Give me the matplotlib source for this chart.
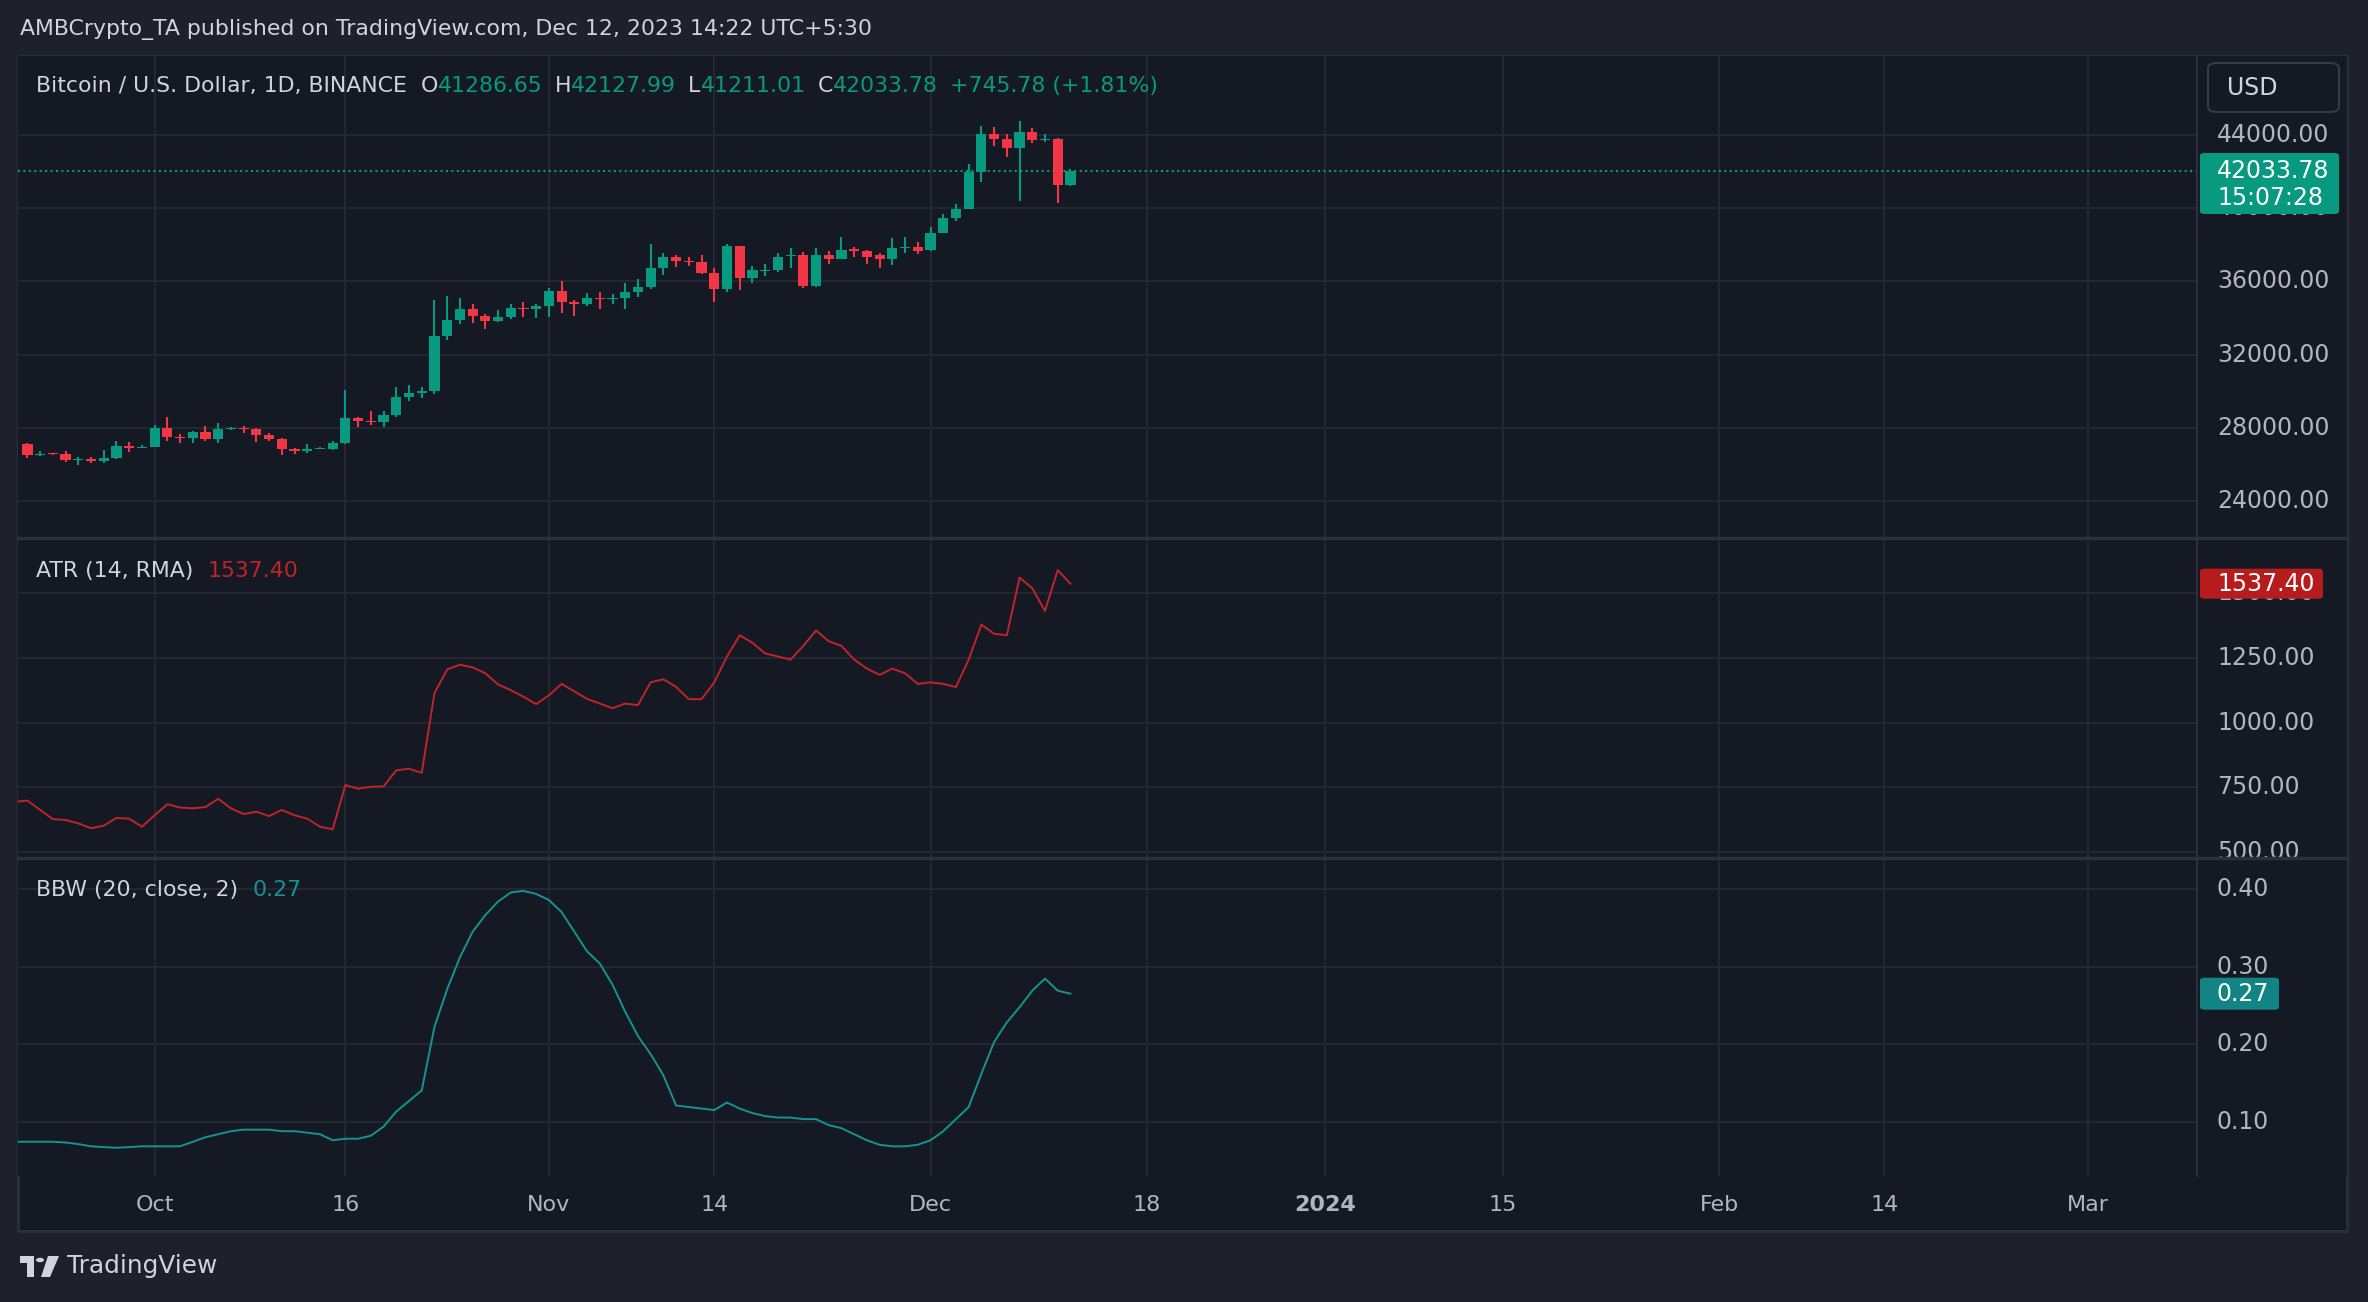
import numpy as np
import pandas as pd
import matplotlib
matplotlib.use('Agg')
import matplotlib.pyplot as plt
import matplotlib.dates as mdates
from matplotlib.patches import Rectangle, FancyBboxPatch, Circle, Polygon

# ---------------- data ----------------
candle_start = '2023-09-21'
opens = [27110, 26530, 26590, 26570, 26250, 26300, 26210, 26350, 27020, 26910,
         26970, 27990, 27500, 27430, 27790, 27410, 27930, 27960, 27920, 27590,
         27390, 26870, 26760, 26860, 26870, 27160, 28520, 28400, 28320, 28680,
         29680, 29910, 29990, 33040, 33910, 34520, 34130, 33810, 34080, 34570,
         34500, 34660, 35450, 34900, 34760, 35120, 35040, 35100, 35420, 35670,
         36710, 37360, 37140, 37060, 36440, 35560, 37910, 36160, 36580, 36600,
         37380, 37460, 35740, 37420, 37220, 37750, 37650, 37420, 37200, 37820,
         37860, 37690, 38670, 39490, 39980, 41990, 44080, 43770, 43290, 44180,
         43720, 43790, 41286.65]
highs = [27160, 26730, 26610, 26730, 26430, 26400, 26800, 27270, 27220, 27060,
         28150, 28580, 27680, 27840, 28110, 28290, 28030, 28100, 27990, 27730,
         27440, 26890, 27100, 26950, 27290, 30070, 28570, 28930, 28920, 30230,
         30340, 30230, 35010, 35230, 35120, 34790, 34240, 34460, 34790, 34850,
         34740, 35620, 36000, 34960, 35340, 35400, 35290, 35890, 36110, 38020,
         37580, 37470, 37310, 37470, 36760, 38020, 37960, 36820, 36930, 37530,
         37800, 37630, 37850, 37640, 38400, 37860, 37690, 37530, 38350, 38450,
         38130, 39000, 39710, 40240, 42420, 44490, 44430, 44050, 44760, 44370,
         44040, 43850, 42127.99]
lows = [26360, 26470, 26540, 26120, 25980, 26090, 26100, 26320, 26660, 26890,
        26950, 27280, 27180, 27190, 27290, 27170, 27870, 27730, 27220, 27300,
        26540, 26560, 26600, 26820, 26810, 27110, 28050, 28160, 28020, 28580,
        29460, 29650, 29870, 32820, 33690, 33750, 33420, 33800, 33970, 34080,
        34020, 34080, 34300, 34130, 34630, 34520, 34740, 34520, 35150, 35580,
        36350, 36780, 36820, 36380, 34850, 35400, 35510, 35890, 36270, 36490,
        36760, 35650, 35670, 36930, 37200, 37360, 36930, 36710, 36870, 37580,
        37520, 37640, 38620, 39300, 39970, 41420, 43400, 42820, 40400, 43580,
        43620, 40290, 41211.01]
closes = [26530, 26590, 26570, 26250, 26300, 26210, 26350, 27020, 26910, 26970,
          27990, 27500, 27430, 27790, 27410, 27930, 27960, 27920, 27590, 27390,
          26870, 26760, 26860, 26870, 27160, 28520, 28400, 28320, 28680, 29680,
          29910, 29990, 33040, 33910, 34520, 34130, 33810, 34080, 34570, 34500,
          34660, 35450, 34900, 34760, 35120, 35040, 35100, 35420, 35670, 36710,
          37360, 37140, 37060, 36440, 35560, 37910, 36160, 36650, 36640, 37360,
          37460, 35740, 37420, 37220, 37710, 37650, 37310, 37200, 37800, 37900,
          37640, 38670, 39490, 39980, 41990, 44080, 43770, 43290, 44180, 43720,
          43790, 41288.00, 42033.78]

ind_start = '2023-09-20'
atr = [694, 699, 663, 627, 624, 611, 592, 602, 632, 629, 598,
       642, 685, 672, 669, 674, 706, 669, 647, 656, 639, 663, 642, 629, 598, 588,
       759, 745, 752, 754, 816, 822, 806, 1114, 1206, 1224, 1214, 1191, 1148,
       1126, 1100, 1072,
       1106, 1150, 1121, 1092, 1074, 1056, 1074, 1068, 1156, 1168, 1138, 1091,
       1091, 1156, 1256, 1338, 1309, 1268, 1256, 1244, 1297, 1356, 1315, 1297,
       1244, 1209, 1185, 1209, 1191, 1150,
       1156, 1150, 1138, 1244, 1379, 1344, 1338, 1561, 1520, 1432, 1590, 1537.40]
bbw = [0.0745, 0.0745, 0.0745, 0.0745, 0.0735, 0.0715, 0.0686, 0.0676, 0.0667,
       0.0676, 0.0686, 0.0686, 0.0686, 0.0686, 0.0745, 0.0803, 0.0842, 0.0881,
       0.0901, 0.0901, 0.0901, 0.0881, 0.0881, 0.0862, 0.0842, 0.0764, 0.0784,
       0.0784, 0.0823, 0.0940, 0.1135, 0.1271, 0.1407, 0.2226, 0.2713, 0.3123,
       0.3454, 0.3669, 0.3844, 0.3961, 0.3981, 0.3942, 0.3864, 0.3708, 0.3454,
       0.3201, 0.3045, 0.2772, 0.2421, 0.2109, 0.1875, 0.1602, 0.1212, 0.1193,
       0.1173, 0.1154, 0.1251, 0.1173, 0.1115, 0.1076, 0.1057, 0.1057, 0.1037,
       0.1037, 0.0959, 0.0920, 0.0842, 0.0764, 0.0706, 0.0686, 0.0686, 0.0706,
       0.0764, 0.0881, 0.1037, 0.1193, 0.1622, 0.2031, 0.2285, 0.2480, 0.2694,
       0.2850, 0.2694, 0.2655]

price_ticks = [24000, 28000, 32000, 36000, 40000, 44000]
atr_ticks = [500, 750, 1000, 1250, 1500]
bbw_ticks = [0.10, 0.20, 0.30, 0.40]
date_ticks = ['2023-10-01', '2023-10-16', '2023-11-01', '2023-11-14', '2023-12-01',
              '2023-12-18', '2024-01-01', '2024-01-15', '2024-02-01', '2024-02-14',
              '2024-03-01']
date_labels = ['Oct', '16', 'Nov', '14', 'Dec', '18', '2024', '15', 'Feb', '14', 'Mar']

header = 'AMBCrypto_TA published on TradingView.com, Dec 12, 2023 14:22 UTC+5:30'
symbol = 'Bitcoin / U.S. Dollar, 1D, BINANCE'
countdown = '15:07:28'

# ---------------- style ----------------
W, H = 2368, 1302
BG_OUT = '#1e212c'
BG = '#151924'
GRID = '#252934'
SEP = '#2c303c'
TXT = '#d1d4dc'
AX_TXT = '#b2b5be'
UP = '#089981'
DN = '#f23645'
ATR_C = '#c0242b'
ATR_TAG = '#b71c1c'
BBW_C = '#169390'
BBW_TAG = '#138484'
plt.rcParams['font.family'] = ['DejaVu Sans']

fig = plt.figure(figsize=(W / 100, H / 100), dpi=100, facecolor=BG_OUT)


def fr(x0, y0, x1, y1):
    return [x0 / W, 1 - y1 / H, (x1 - x0) / W, (y1 - y0) / H]


def fx(x):
    return x / W


def fy(y):
    return 1 - y / H


# chart frame background
fig.add_artist(Rectangle((fx(18), fy(1231)), (2347 - 18) / W, (1231 - 56) / H,
                         transform=fig.transFigure, facecolor=BG, edgecolor=SEP, lw=2, zorder=0))

ax_p = fig.add_axes(fr(18, 56, 2197, 538))
ax_a = fig.add_axes(fr(18, 538, 2197, 858), sharex=ax_p)
ax_b = fig.add_axes(fr(18, 858, 2197, 1176), sharex=ax_p)
r_p = fig.add_axes(fr(2197, 56, 2347, 538))
r_a = fig.add_axes(fr(2197, 538, 2347, 858))
r_b = fig.add_axes(fr(2197, 858, 2347, 1176))

oct1 = mdates.date2num(pd.Timestamp('2023-10-01'))
xlim = (oct1 - 10.74, oct1 + 160.57)
tick_x = mdates.date2num(pd.to_datetime(date_ticks))

panes = [(ax_p, r_p, price_ticks, (21980, 48317)),
         (ax_a, r_a, atr_ticks, (477, 1714)),
         (ax_b, r_b, bbw_ticks, (0.0303, 0.4406))]
for ax, rax, ticks, ylim in panes:
    for a in (ax, rax):
        a.set_facecolor(BG)
        for s in a.spines.values():
            s.set_visible(False)
        a.set_xticks([])
        a.set_yticks([])
        a.set_ylim(*ylim)
    ax.set_xlim(*xlim)
    rax.set_xlim(0, 150)
    for t in tick_x:
        ax.axvline(t, color=GRID, lw=1.3, zorder=0)
    for v in ticks:
        ax.axhline(v, color=GRID, lw=1.3, zorder=0)
        rax.text(20, v, f'{v:.2f}', color=AX_TXT, fontsize=17, va='center', ha='left',
                 clip_on=True, zorder=1)

# candles
cd = mdates.date2num(pd.date_range(candle_start, periods=len(opens)))
o = np.array(opens)
hi = np.array(highs)
lo = np.array(lows)
c = np.array(closes)
col = np.where(c >= o, UP, DN)
body = np.where(np.abs(c - o) < 60, 60, np.abs(c - o))
ax_p.vlines(cd, lo, hi, colors=col, lw=1.5, zorder=2)
ax_p.bar(cd, body, bottom=np.minimum(o, c), width=0.8, color=col, lw=0, zorder=3)
ax_p.axhline(closes[-1], color=UP, lw=1.5, ls=(0, (1, 1.6)), zorder=1)

# indicators
idd = pd.date_range(ind_start, periods=len(atr))
ax_a.plot(idd, atr, color=ATR_C, lw=1.4, zorder=2)
ax_b.plot(idd, bbw, color=BBW_C, lw=1.4, zorder=2)
ax_p.set_xlim(*xlim)

# pane separators
for y in (538, 858):
    fig.add_artist(plt.Line2D([fx(18), fx(2347)], [fy(y), fy(y)], transform=fig.transFigure,
                              color=SEP, lw=2.5))
fig.add_artist(plt.Line2D([fx(2197), fx(2197)], [fy(56), fy(1176)], transform=fig.transFigure,
                          color=SEP, lw=1.5))


def ypx(ax, v):
    return H - ax.transData.transform((0, v))[1]


def tag(x0, x1, y0, y1, color):
    fig.add_artist(FancyBboxPatch((fx(x0), fy(y1)), (x1 - x0) / W, (y1 - y0) / H,
                                  boxstyle='round,pad=0,rounding_size=0.002',
                                  transform=fig.transFigure, facecolor=color, edgecolor='none',
                                  zorder=5))


# last price tag
yc = ypx(ax_p, closes[-1])
tag(2200, 2339, yc - 18, yc + 43, UP)
fig.text(fx(2217), fy(yc), f'{closes[-1]:.2f}', color='white', fontsize=17, va='center',
         ha='left', zorder=6)
fig.text(fx(2217), fy(yc + 27), countdown, color='white', fontsize=17, va='center',
         ha='left', zorder=6)

yc = ypx(ax_a, atr[-1])
tag(2200, 2323, yc - 15, yc + 15, ATR_TAG)
fig.text(fx(2217), fy(yc), f'{atr[-1]:.2f}', color='white', fontsize=17, va='center',
         ha='left', zorder=6)

yc = ypx(ax_b, bbw[-1])
tag(2200, 2279, yc - 16, yc + 16, BBW_TAG)
fig.text(fx(2217), fy(yc), f'{bbw[-1]:.2f}', color='white', fontsize=17, va='center',
         ha='left', zorder=6)

# USD button
fig.add_artist(FancyBboxPatch((fx(2208), fy(112)), 131 / W, 49 / H,
                              boxstyle='round,pad=0,rounding_size=0.004',
                              transform=fig.transFigure, facecolor=BG, edgecolor='#363a45',
                              lw=1.5, zorder=5))
fig.text(fx(2227), fy(88), 'USD', color=TXT, fontsize=17, va='center', ha='left', zorder=6)

# time axis labels
for t, lab in zip(tick_x, date_labels):
    xp = ax_b.transData.transform((t, 0))[0]
    fig.text(xp / W, fy(1205), lab, color=AX_TXT, fontsize=16, ha='center', va='center',
             fontweight='bold' if lab == '2024' else 'normal')

# header
fig.text(fx(20), fy(30), header, color=TXT, fontsize=15.8, va='center', ha='left')

renderer = fig.canvas.get_renderer()


def seq(x, y, parts, size=15.8):
    for s, colr, gap in parts:
        t = fig.text(fx(x), fy(y), s, color=colr, fontsize=size, va='center', ha='left', zorder=6)
        x += t.get_window_extent(renderer=renderer).width + gap


chg = closes[-1] - closes[-2]
pct = chg / closes[-2] * 100
seq(36, 86, [(symbol, TXT, 14), ('O', TXT, 0), (f'{opens[-1]:.2f}', UP, 12),
             ('H', TXT, 0), (f'{highs[-1]:.2f}', UP, 12), ('L', TXT, 0),
             (f'{lows[-1]:.2f}', UP, 12), ('C', TXT, 0), (f'{closes[-1]:.2f}', UP, 12),
             (f'+{chg:.2f} (+{pct:.2f}%)', UP, 0)])
seq(36, 571, [('ATR (14, RMA)', TXT, 14), (f'{atr[-1]:.2f}', ATR_C, 0)])
seq(36, 890, [('BBW (20, close, 2)', TXT, 14), (f'{bbw[-1]:.2f}', BBW_C, 0)])

# TradingView logo
LOGO = '#d1d4dc'
fig.add_artist(Rectangle((fx(20), fy(1263)), 14 / W, 7 / H, transform=fig.transFigure,
                         facecolor=LOGO, edgecolor='none'))
fig.add_artist(Rectangle((fx(27), fy(1277)), 7 / W, 21 / H, transform=fig.transFigure,
                         facecolor=LOGO, edgecolor='none'))
fig.add_artist(Circle((fx(40), fy(1260)), 4 / W, transform=fig.transFigure,
                      facecolor=LOGO, edgecolor='none'))
fig.add_artist(Polygon([(fx(48), fy(1256)), (fx(59), fy(1256)), (fx(50), fy(1277)),
                        (fx(41), fy(1277))], closed=True, transform=fig.transFigure,
                       facecolor=LOGO, edgecolor='none'))
fig.text(fx(67), fy(1266), 'TradingView', color=LOGO, fontsize=17.8, va='center', ha='left')

fig.savefig('out.png', dpi=100, facecolor=BG_OUT)
